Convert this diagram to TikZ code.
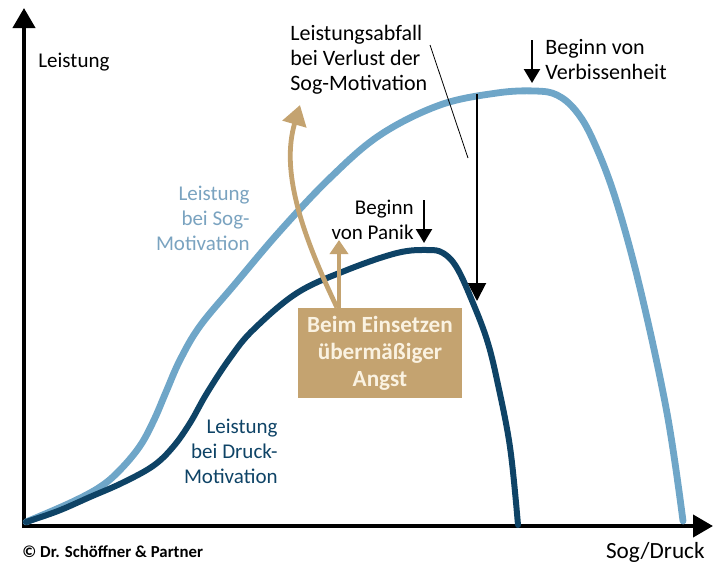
\documentclass[tikz,border=0pt]{standalone}
\usepackage{fontspec}
\setmainfont{Carlito}
\usepackage{tikz}
\usetikzlibrary{arrows.meta, positioning}

\definecolor{sogblue}{RGB}{111,166,200}
\definecolor{sogtext}{RGB}{122,163,192}
\definecolor{druckblue}{RGB}{14,67,102}
\definecolor{angsttan}{RGB}{196,163,112}
\definecolor{angsttext}{RGB}{250,242,225}

\begin{document}
\begin{tikzpicture}[
    x = 0.5pt, y = -0.5pt,
    every node/.style = {inner sep = 0pt, font = \fontsize{10.5}{12.5}\selectfont},
    bigtext/.style = {font = \fontsize{11}{12.5}\selectfont},
    axis/.style = {line width = 2pt, -{Triangle[length = 10pt, width = 11pt]}},
    curve/.style = {line width = 3.4pt, line cap = round, smooth, tension = 0.6},
    marker/.style = {line width = 1.2pt, -{Triangle[length = 7pt, width = 8pt]}},
    tanarrow/.style = {draw = angsttan, line width = 2.4pt, -{Triangle[length = 10pt, width = 12pt]}}
  ]
  \useasboundingbox (0,0) rectangle (713,562);

  % axes
  \draw[axis] (24,528) -- (24,8);
  \draw[axis] (22,526) -- (713,526);
  \node[anchor = west] (ylabel) at (38,62) {Leistung};
  \node[anchor = east, font = \fontsize{11.6}{13}\selectfont] (xlabel) at (705,552) {Sog/Druck};
  \node[anchor = west, font = \fontsize{8.4}{10}\selectfont\bfseries] (copy)
    at (22,552) {\textcopyright{} Dr. Schöffner \& Partner};

  % curves
  \draw[curve, sogblue] plot coordinates {
    (26,522) (70,503) (100,487) (120,470) (140,446) (154,420) (166,392)
    (180,360) (200,326) (235,284) (280,231) (330,178) (380,135) (440,105)
    (497,93) (535,91) (557,95) (576,111) (593,140) (615,197) (640,288)
    (667,413) (683,521)};
  \draw[curve, druckblue, line width = 3pt] plot coordinates {
    (26,522) (58,511) (90,497) (122,483) (153,466) (173,447) (190,423)
    (207,393) (230,358) (253,330) (297,293) (347,270) (397,253) (427,250)
    (443,253) (457,268) (473,303) (487,340) (497,380) (510,447) (518,525)};

  % Labels
  \node[anchor = east, align = right, text = sogtext] (sogtxt) at (250,218)
    {Leistung\\bei Sog-\\Motivation};
  \node[anchor = east, align = right, text = druckblue] (drucktxt) at (278,451)
    {Leistung\\bei Druck-\\Motivation};
  \node[anchor = west, align = left, bigtext] (abfall) at (290,60)
    {Leistungsabfall\\bei Verlust der\\Sog-Motivation};
  \node[anchor = west, align = left, bigtext] (verbiss) at (545,60)
    {Beginn von\\Verbissenheit};
  \node[anchor = east, align = right] (panik) at (414,220)
    {Beginn\\von Panik};

  % box
  \node[fill = angsttan, minimum width = 82pt, minimum height = 45pt,
    align = center, text = angsttext,
    font = \fontsize{11.6}{13.5}\selectfont\bfseries] (angst) at (380,353)
    {Beim Einsetzen\\übermäßiger\\Angst};

  % arrows
  \coordinate (sogtop) at (477,94);
  \coordinate (sogdrop) at (477,301);
  \draw[marker, line width = 1pt, -{Triangle[length = 9pt, width = 9pt]}] (sogtop) -- (sogdrop);
  \draw[marker] (532,40) -- (532,83);
  \draw[marker] (424,200) -- (424,243);
  \draw[line width = 0.4pt] (430,45) -- (468,158);
  \draw[tanarrow] (angst.north -| 337,0) .. controls (300,230) and (281,170) .. (300,105);
  \draw[tanarrow, -{Triangle[length = 7pt, width = 9pt]}] (angst.north -| 339,0) -- (339,240);

\end{tikzpicture}
\end{document}
